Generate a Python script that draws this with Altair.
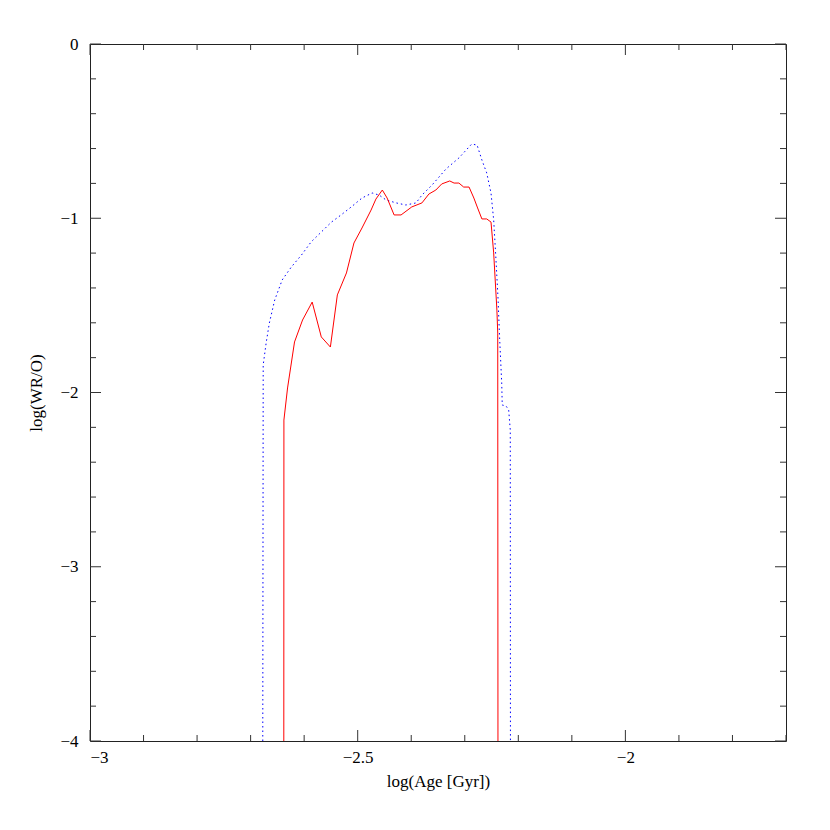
import altair as alt
import pandas as pd
import numpy as np

# Blue dotted curve
blue_x = [-2.6773, -2.6765, -2.671, -2.665, -2.655, -2.641, -2.624, -2.605, -2.587, -2.568,
          -2.549, -2.531, -2.512, -2.492, -2.473, -2.460, -2.447, -2.428, -2.410, -2.391,
          -2.380, -2.361, -2.335, -2.311, -2.287, -2.277, -2.268, -2.259, -2.251, -2.246,
          -2.242, -2.238, -2.235, -2.231, -2.230, -2.223, -2.218, -2.215, -2.2147]
blue_y = [-4.0, -1.842, -1.716, -1.601, -1.469, -1.354, -1.280, -1.211, -1.136, -1.079,
          -1.022, -0.981, -0.935, -0.884, -0.855, -0.867, -0.895, -0.912, -0.924, -0.912,
          -0.867, -0.809, -0.717, -0.654, -0.574, -0.580, -0.666, -0.740, -0.855, -1.010,
          -1.222, -1.452, -1.681, -1.945, -2.072, -2.077, -2.100, -2.215, -4.0]

# Red solid curve
red_x = [-2.638, -2.6378, -2.631, -2.618, -2.603, -2.585, -2.568, -2.551, -2.538, -2.521,
         -2.507, -2.492, -2.475, -2.466, -2.454, -2.445, -2.432, -2.419, -2.399, -2.380,
         -2.367, -2.354, -2.343, -2.328, -2.320, -2.311, -2.302, -2.292, -2.283, -2.276,
         -2.268, -2.259, -2.251, -2.246, -2.240, -2.2384, -2.238]
red_y = [-4.0, -2.158, -1.974, -1.710, -1.584, -1.481, -1.681, -1.739, -1.440, -1.314,
         -1.142, -1.056, -0.953, -0.890, -0.838, -0.884, -0.981, -0.981, -0.935, -0.912,
         -0.861, -0.838, -0.803, -0.786, -0.798, -0.798, -0.821, -0.821, -0.884, -0.941,
         -1.004, -1.004, -1.022, -1.199, -1.527, -1.659, -4.0]

x_labels = [-3, -2.5, -2]
y_labels = [0, -1, -2, -3, -4]

W, H = 696, 697
XD = [-3.0, -1.7]
YD = [-4.0, 0.0]
FONT = "Liberation Serif"

blue = pd.DataFrame({"x": blue_x, "y": blue_y, "i": range(len(blue_x))})
red = pd.DataFrame({"x": red_x, "y": red_y, "i": range(len(red_x))})

xs = alt.Scale(domain=XD, nice=False, zero=False)
ys = alt.Scale(domain=YD, nice=False, zero=False)

xaxis = alt.Axis(values=x_labels, format="~g", ticks=False, grid=False, domain=False,
                 labelFont=FONT, labelFontSize=17, labelColor="black", labelPadding=8,
                 title="log(Age [Gyr])", titleFont=FONT, titleFontSize=17,
                 titleFontWeight="normal", titleColor="black", titlePadding=8)
yaxis = alt.Axis(values=y_labels, format="~g", ticks=False, grid=False, domain=False,
                 labelFont=FONT, labelFontSize=17, labelColor="black", labelPadding=12,
                 title="log(WR/O)", titleFont=FONT, titleFontSize=17,
                 titleFontWeight="normal", titleColor="black", titlePadding=14)

blue_line = alt.Chart(blue).mark_line(color="#0000ff", strokeWidth=1, strokeDash=[1.5, 3], clip=True).encode(
    x=alt.X("x:Q", scale=xs, axis=xaxis),
    y=alt.Y("y:Q", scale=ys, axis=yaxis),
    order="i:Q")
red_line = alt.Chart(red).mark_line(color="#ff0000", strokeWidth=1, clip=True).encode(
    x=alt.X("x:Q", scale=xs),
    y=alt.Y("y:Q", scale=ys),
    order="i:Q")

# tick marks drawn inward on all four sides
xt = np.round(np.arange(-3.0, -1.7 + 1e-9, 0.1), 2)
xticks = pd.DataFrame({"x": xt, "len": [11 if abs(v * 2 - round(v * 2)) < 1e-6 else 6 for v in xt]})
yt = np.round(np.arange(-4.0, 0.0 + 1e-9, 0.2), 2)
yticks = pd.DataFrame({"y": yt, "len": [11 if abs(v - round(v)) < 1e-6 else 6 for v in yt]})

tick_color = "#333333"
xb = alt.Chart(xticks).transform_calculate(y0=f"{H}", y1=f"{H}-datum.len").mark_rule(
    color=tick_color, strokeWidth=1).encode(
    x=alt.X("x:Q", scale=xs), y=alt.Y("y0:Q", scale=None), y2="y1:Q")
xtp = alt.Chart(xticks).transform_calculate(y0="0", y1="datum.len").mark_rule(
    color=tick_color, strokeWidth=1).encode(
    x=alt.X("x:Q", scale=xs), y=alt.Y("y0:Q", scale=None), y2="y1:Q")
yl = alt.Chart(yticks).transform_calculate(x0="0", x1="datum.len").mark_rule(
    color=tick_color, strokeWidth=1).encode(
    y=alt.Y("y:Q", scale=ys), x=alt.X("x0:Q", scale=None), x2="x1:Q")
yr = alt.Chart(yticks).transform_calculate(x0=f"{W}", x1=f"{W}-datum.len").mark_rule(
    color=tick_color, strokeWidth=1).encode(
    y=alt.Y("y:Q", scale=ys), x=alt.X("x0:Q", scale=None), x2="x1:Q")

chart = alt.layer(blue_line, red_line, xb, xtp, yl, yr).properties(
    width=W, height=H,
    padding={"left": 82, "top": 36, "right": 20, "bottom": 60},
    autosize="none",
    background="white",
).configure_view(stroke="#222222", strokeWidth=1)

chart.save("out.html", embed_options={"renderer": "svg", "actions": False})
